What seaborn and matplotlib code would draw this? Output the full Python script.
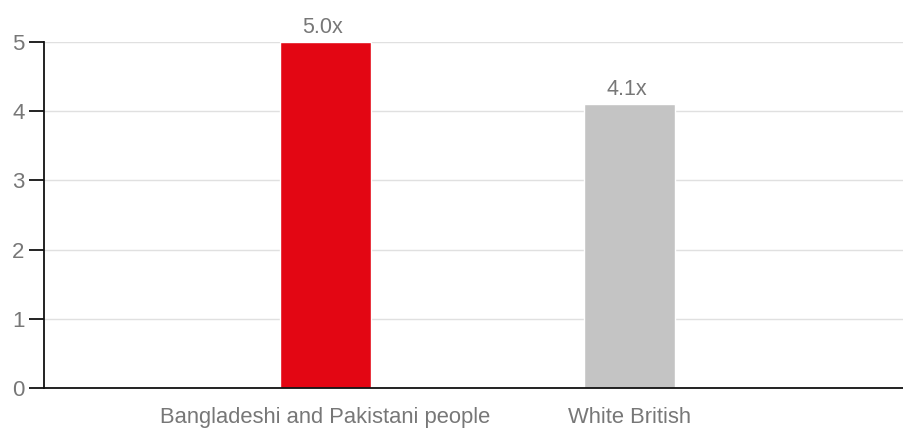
import matplotlib
matplotlib.use("Agg")
import matplotlib.pyplot as plt
import seaborn as sns
import pandas as pd

categories = ["Bangladeshi and Pakistani people", "White British"]
values = [5.0, 4.1]
value_labels = ["5.0x", "4.1x"]
colors = ["#E30613", "#C4C4C4"]
yticks = [0, 1, 2, 3, 4, 5]

sns.set_theme(style="white")
plt.rcParams['font.family'] = ['Liberation Sans', 'DejaVu Sans']

df = pd.DataFrame({"cat": categories, "val": values})

fig = plt.figure(figsize=(9.04, 4.28), dpi=100)
ax = fig.add_axes([44/904, 40/428, 860/904, 346/428])
sns.barplot(data=df, x="cat", y="val", hue="cat", palette=colors, width=0.3,
            legend=False, ax=ax, saturation=1)

ax.set_xlim(-0.926, 1.903)
ax.set_ylim(0, 5)
ax.set_yticks(yticks)
ax.yaxis.grid(True, color="#E0E0E0", linewidth=1)
ax.set_axisbelow(True)
for s in ["top", "right"]:
    ax.spines[s].set_visible(False)
for s in ["left", "bottom"]:
    ax.spines[s].set_color("#111111")
    ax.spines[s].set_linewidth(1.3)
ax.tick_params(axis="y", length=11, width=1.3, color="#111111", labelsize=16,
               labelcolor="#777777", pad=3, left=True)
ax.tick_params(axis="x", length=0, labelsize=15.8, labelcolor="#777777", pad=14)
ax.set_xlabel("")
ax.set_ylabel("")

for i, (v, lab) in enumerate(zip(values, value_labels)):
    ax.text(i - 0.01, v + 0.06, lab, ha="center", va="bottom", fontsize=15.5, color="#777777")

fig.savefig("out.png", dpi=100)
